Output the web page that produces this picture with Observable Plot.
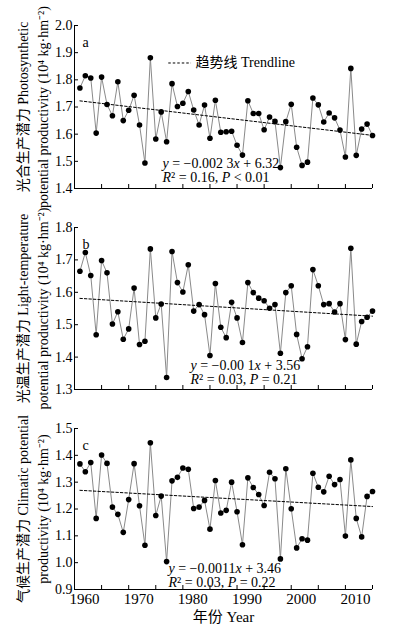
<!DOCTYPE html>
<html><head><meta charset="utf-8">
<script src="https://cdn.jsdelivr.net/npm/d3@7"></script>
<script src="https://cdn.jsdelivr.net/npm/@observablehq/plot@0.6"></script>
<style>
body{margin:0;background:#fff}
#chart{width:396px}
#chart svg{display:block}
</style>
</head><body><div id="chart"></div>
<script>
const years = [1961,1962,1963,1964,1965,1966,1967,1968,1969,1970,
  1971,1972,1973,1974,1975,1976,1977,1978,1979,1980,
  1981,1982,1983,1984,1985,1986,1987,1988,1989,1990,
  1991,1992,1993,1994,1995,1996,1997,1998,1999,2000,
  2001,2002,2003,2004,2005,2006,2007,2008,2009,2010,
  2011,2012,2013,2014,2015];

const photosynthetic = [1.770,1.815,1.807,1.604,1.810,1.709,1.668,1.793,1.650,1.688,
  1.743,1.634,1.494,1.881,1.582,1.682,1.572,1.786,1.702,1.714,
  1.757,1.689,1.634,1.707,1.585,1.725,1.607,1.609,1.611,1.559,
  1.523,1.723,1.676,1.676,1.616,1.663,1.647,1.477,1.646,1.710,
  1.552,1.485,1.497,1.733,1.708,1.645,1.678,1.660,1.615,1.516,
  1.842,1.522,1.619,1.637,1.595];

const lightTemperature = [1.665,1.723,1.652,1.469,1.698,1.660,1.502,1.540,1.455,1.487,
  1.613,1.439,1.449,1.734,1.521,1.564,1.337,1.726,1.630,1.601,
  1.685,1.542,1.562,1.531,1.405,1.627,1.492,1.460,1.569,1.521,
  1.445,1.630,1.599,1.582,1.574,1.551,1.562,1.412,1.599,1.620,
  1.470,1.395,1.432,1.670,1.620,1.562,1.565,1.539,1.565,1.454,
  1.736,1.440,1.510,1.523,1.542];

const climatic = [1.368,1.339,1.373,1.165,1.401,1.370,1.207,1.180,1.113,1.235,
  1.369,1.212,1.065,1.447,1.176,1.248,1.004,1.305,1.318,1.353,
  1.348,1.202,1.207,1.232,1.125,1.306,1.185,1.195,1.300,1.190,
  1.067,1.316,1.280,1.254,1.213,1.337,1.313,1.014,1.350,1.201,
  1.055,1.089,1.084,1.333,1.281,1.264,1.322,1.291,1.310,1.099,
  1.383,1.165,1.096,1.247,1.265];

const xTicks = [1960,1965,1970,1975,1980,1985,1990,1995,2000,2005,2010,2015];
const xLabels = [1960,1970,1980,1990,2000,2010];
const yTicksA = [1.4,1.5,1.6,1.7,1.8,1.9,2.0];
const yTicksB = [1.3,1.4,1.5,1.6,1.7,1.8];
const yTicksC = [0.9,1.0,1.1,1.2,1.3,1.4,1.5];

const panelLetters = ["a","b","c"];
const yLabels = [
  "光合生产潜力 Photosynthetic\npotential productivity (10⁴ kg·hm⁻²)",
  "光温生产潜力 Light-temperature\npotential productivity (10⁴ kg·hm⁻²)",
  "气候生产潜力 Climatic potential\nproductivity (10⁴ kg·hm⁻²)"
];
const equations = [
  ["_y_ = −0.002 3_x_ + 6.32", "_R_² = 0.16, _P_ < 0.01"],
  ["_y_ = −0.00 1_x_ + 3.56", "_R_² = 0.03, _P_ = 0.21"],
  ["_y_ = −0.0011_x_ + 3.46", "_R_² = 0.03, _P_ = 0.22"]
];
const legendText = "趋势线 Trendline";
const xTitle = "年份 Year";

const FONT = "'Liberation Serif','Times New Roman','Noto Sans CJK SC',serif";
const dash = "2.5,2";

function panel({values, yTicks, height, marginTop, marginBottom, letter, ylabel, eq, eqDx, eqDy, bottom, legend}) {
  const data = years.map((y, i) => ({year: y, v: values[i]}));
  const yDom = [yTicks[0], yTicks[yTicks.length - 1]];
  const marks = [
    Plot.ruleX([1960], {y1: yDom[0], y2: yDom[1], stroke: "black", strokeWidth: 1}),
    Plot.ruleY([yDom[0]], {x1: 1960, x2: 2015, stroke: "black", strokeWidth: 1}),
    Plot.axisY({ticks: yTicks, tickSize: -4, tickPadding: 6, tickFormat: d => d.toFixed(1), label: null, fontSize: 14}),
    Plot.axisX({ticks: xTicks, tickSize: -4, tickFormat: () => "", label: null}),
    Plot.line(data, {x: "year", y: "v", stroke: "#8a8a8a", strokeWidth: 1}),
    Plot.linearRegressionY(data, {x: "year", y: "v", ci: 0, stroke: "black", strokeWidth: 1, strokeDasharray: dash}),
    Plot.dot(data, {x: "year", y: "v", r: 2.8, fill: "black", stroke: "none"}),
    Plot.text([letter], {frameAnchor: "top-left", dx: 8, dy: 12, fontSize: 14}),
    Plot.text([ylabel], {frameAnchor: "left", rotate: -90, dx: -43, lineHeight: 1.45, fontSize: 14, textAnchor: "middle", lineAnchor: "middle"}),
    Plot.text([eq[0]], {frameAnchor: "top-left", dx: eqDx, dy: eqDy, textAnchor: "start", lineAnchor: "middle", fontSize: 14}),
    Plot.text([eq[1]], {frameAnchor: "top-left", dx: eqDx, dy: eqDy + 14, textAnchor: "start", lineAnchor: "middle", fontSize: 14})
  ];
  if (bottom) {
    marks.push(Plot.axisX({ticks: xLabels, tickSize: 0, tickPadding: 4, dx: 10, tickFormat: d => String(d), label: null, fontSize: 15}));
    marks.push(Plot.text([xTitle], {frameAnchor: "bottom", dy: 28, fontSize: 15, lineAnchor: "middle"}));
  }
  if (legend) {
    marks.push(Plot.ruleY([1.862], {x1: 1977.4, x2: 1981.6, stroke: "black", strokeWidth: 1, strokeDasharray: dash}));
    marks.push(Plot.text([legendText], {frameAnchor: "top-left", dx: 121, dy: 37, textAnchor: "start", lineAnchor: "middle", fontSize: 14}));
  }
  const svg = Plot.plot({
    width: 396, height, marginLeft: 74, marginRight: 24, marginTop, marginBottom,
    style: {fontFamily: FONT, fontSize: "14px", background: "white", color: "black", overflow: "visible"},
    x: {domain: [1960, 2015]},
    y: {domain: yDom},
    marks
  });
  // italicize variables marked with underscores
  d3.select(svg).selectAll("text").each(function() {
    const el = d3.select(this);
    if (el.selectAll("tspan").size() > 0) return;
    const t = el.text();
    if (!t.includes("_")) return;
    el.text(null);
    t.split("_").forEach((part, i) => {
      if (!part) return;
      const ts = el.append("tspan").text(part);
      if (i % 2 === 1) ts.attr("font-style", "italic");
    });
  });
  return svg;
}

const root = document.getElementById("chart");
root.appendChild(panel({values: photosynthetic, yTicks: yTicksA, height: 200, marginTop: 25, marginBottom: 12,
  letter: panelLetters[0], ylabel: yLabels[0], eq: equations[0], eqDx: 88, eqDy: 138, legend: true}));
root.appendChild(panel({values: lightTemperature, yTicks: yTicksB, height: 200, marginTop: 27, marginBottom: 11,
  letter: panelLetters[1], ylabel: yLabels[1], eq: equations[1], eqDx: 116, eqDy: 138}));
root.appendChild(panel({values: climatic, yTicks: yTicksC, height: 230, marginTop: 28, marginBottom: 41,
  letter: panelLetters[2], ylabel: yLabels[2], eq: equations[2], eqDx: 94, eqDy: 140, bottom: true}));
</script>
</body></html>
